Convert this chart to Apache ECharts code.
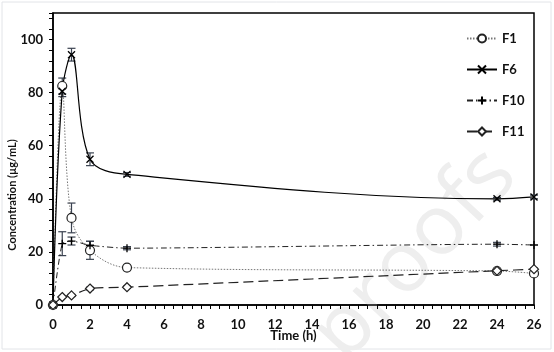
<!DOCTYPE html>
<html>
<head>
<meta charset="utf-8">
<script src="https://cdn.jsdelivr.net/npm/echarts@6/dist/echarts.min.js"></script>
<style>
  html, body { margin: 0; padding: 0; background: #fff; }
  #chart { width: 554px; height: 352px; }
</style>
</head>
<body>
<div id="chart"></div>
<script>
let chart = echarts.init(document.getElementById('chart'));

// sampling times (h)
let times = [0, 0.5, 1, 2, 4, 24, 26];

// mean concentrations (µg/mL)
let f1 = [0, 82.5, 32.8, 20.6, 14.1, 12.8, 11.9];
let f6 = [0, 80.5, 94.3, 54.9, 49.2, 40.0, 40.7];
let f10 = [0, 23.1, 24.1, 22.5, 21.4, 22.9, 22.6];
let f11 = [0, 3.0, 3.6, 6.2, 6.7, 12.9, 13.5];

// standard deviations
let f1Err = [0, 3.0, 5.6, 3.4, 0.6, 0.4, 0.5];
let f6Err = [0, 2.0, 2.4, 2.4, 0.7, 0.5, 0.7];
let f10Err = [0, 4.5, 1.5, 1.5, 0.6, 0.7, 0.3];
let f11Err = [0, 0.3, 0.4, 0.5, 0.4, 0.5, 0.4];

let xTicks = [0, 2, 4, 6, 8, 10, 12, 14, 16, 18, 20, 22, 24, 26];

const font = 'Lato, "Open Sans", sans-serif';

function pairs(vals) {
    return times.map((t, i) => [t, vals[i]]);
}

function errData(vals, errs) {
    return times.map((t, i) => [t, vals[i] - errs[i], vals[i] + errs[i]]);
}

// error bars with small caps
function errSeries(vals, errs) {
    return {
        type: 'custom',
        z: 3,
        silent: true,
        data: errData(vals, errs),
        renderItem: (params, api) => {
            let lo = api.coord([api.value(0), api.value(1)]);
            let hi = api.coord([api.value(0), api.value(2)]);
            let w = 4;
            let style = { stroke: '#3a4250', lineWidth: 1.2 };
            if (hi[1] - lo[1] > -2) return;
            return {
                type: 'group',
                children: [
                    { type: 'line', shape: { x1: lo[0], y1: lo[1], x2: hi[0], y2: hi[1] }, style: style },
                    { type: 'line', shape: { x1: lo[0] - w, y1: lo[1], x2: lo[0] + w, y2: lo[1] }, style: style },
                    { type: 'line', shape: { x1: hi[0] - w, y1: hi[1], x2: hi[0] + w, y2: hi[1] }, style: style }
                ]
            };
        }
    };
}

let crossSym = 'path://M0,0L10,10M10,0L0,10';
let plusSym = 'path://M5,0L5,10M0,5L10,5';

chart.setOption({
    animation: false,
    backgroundColor: '#fff',
    graphic: [
        {
            type: 'rect',
            shape: { x: 2, y: 2, width: 549, height: 347 },
            style: { fill: 'none', stroke: '#e2e4e8', lineWidth: 1 },
            z: 0
        },
        {
            type: 'text',
            x: 415, y: 255,
            rotation: 0.82,
            style: {
                text: 'proofs',
                font: '84px "Open Sans", sans-serif',
                fill: '#eeeeee',
                align: 'center',
                verticalAlign: 'middle'
            },
            z: 0
        }
    ],
    grid: {
        left: 53,
        right: 20,
        top: 13,
        bottom: 47,
        outerBoundsMode: 'none',
        show: true,
        borderColor: '#000',
        borderWidth: 1.5
    },
    legend: {
        orient: 'vertical',
        left: 461,
        top: 27,
        itemWidth: 30,
        itemHeight: 10,
        itemGap: 18,
        data: ['F1', 'F6', 'F10', 'F11'],
        textStyle: { fontFamily: font, fontWeight: 'bold', fontSize: 13, color: '#111' }
    },
    xAxis: {
        type: 'value',
        min: 0,
        max: 26,
        interval: 2,
        name: 'Time (h)',
        nameLocation: 'middle',
        nameGap: 24,
        nameMoveOverlap: false,
        nameTextStyle: { fontFamily: font, fontWeight: 'bold', fontSize: 13, color: '#111' },
        axisLine: { lineStyle: { color: '#000', width: 1.5 } },
        axisTick: { length: 4, lineStyle: { color: '#000' } },
        minorTick: { show: true, splitNumber: 4, length: 4, lineStyle: { color: '#000' } },
        splitLine: { show: false },
        axisLabel: {
            margin: 13,
            fontFamily: font, fontWeight: 'bold', fontSize: 13, color: '#111',
            formatter: v => xTicks.indexOf(v) >= 0 ? String(v) : ''
        }
    },
    yAxis: {
        type: 'value',
        min: 0,
        max: 110,
        interval: 20,
        name: 'Concentration (µg/mL)',
        nameLocation: 'middle',
        nameGap: 35,
        nameMoveOverlap: false,
        nameTextStyle: {
            fontFamily: font, fontWeight: 'bold', fontSize: 11, color: '#111',
            padding: [0, 72, 0, 0]
        },
        axisLine: { show: true, lineStyle: { color: '#000', width: 1.5 } },
        axisTick: { length: 4, lineStyle: { color: '#000' } },
        minorTick: { show: true, splitNumber: 5, length: 4, lineStyle: { color: '#000' } },
        splitLine: { show: false },
        axisLabel: {
            margin: 10,
            fontFamily: font, fontWeight: 'bold', fontSize: 13, color: '#111',
            formatter: v => v % 20 === 0 ? String(v) : ''
        }
    },
    series: [
        errSeries(f1, f1Err),
        errSeries(f6, f6Err),
        errSeries(f10, f10Err),
        errSeries(f11, f11Err),
        {
            name: 'F1',
            type: 'line',
            z: 4,
            data: pairs(f1),
            smooth: 0.35,
            symbol: 'circle',
            symbolSize: 9,
            itemStyle: { color: '#fff', borderColor: '#222', borderWidth: 1.2 },
            lineStyle: { color: '#777', width: 1, type: [1.5, 1.5] }
        },
        {
            name: 'F6',
            type: 'line',
            z: 4,
            data: pairs(f6),
            smooth: 0.35,
            symbol: crossSym,
            symbolSize: 7,
            itemStyle: { color: '#000', borderColor: '#000', borderWidth: 1.3 },
            lineStyle: { color: '#000', width: 1.2, type: 'solid' }
        },
        {
            name: 'F10',
            type: 'line',
            z: 4,
            data: pairs(f10),
            smooth: 0.2,
            symbol: plusSym,
            symbolSize: 8,
            itemStyle: { color: '#000', borderColor: '#000', borderWidth: 1.3 },
            lineStyle: { color: '#222', width: 1, type: [6, 3, 1.5, 3] }
        },
        {
            name: 'F11',
            type: 'line',
            z: 4,
            data: pairs(f11),
            smooth: 0.2,
            symbol: 'diamond',
            symbolSize: 9,
            itemStyle: { color: '#fff', borderColor: '#222', borderWidth: 1.2 },
            lineStyle: { color: '#222', width: 1.2, type: [10, 5] }
        }
    ]
});
</script>
</body>
</html>
